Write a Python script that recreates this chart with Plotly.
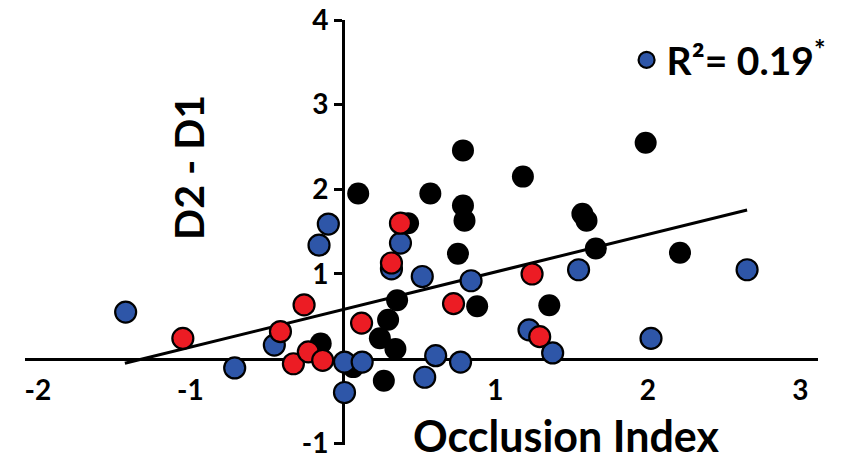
import plotly.graph_objects as go

# ---- data ----
black_x = [0.10, 0.573, 0.787, 0.787, 0.797, 0.754, 1.18, 1.985, 1.57, 1.597, 1.658, 2.21,
           0.88, 1.353, 0.355, 0.296, 0.242, 0.344, -0.146, 0.067, 0.268, 0.427]
black_y = [1.95, 1.95, 2.46, 1.81, 1.63, 1.24, 2.15, 2.55, 1.71, 1.63, 1.30, 1.25,
           0.62, 0.63, 0.69, 0.46, 0.24, 0.115, 0.18, -0.10, -0.26, 1.60]

red_x = [-1.05, -0.255, -0.41, -0.325, -0.227, -0.133, 0.377, 0.318, 0.122, 0.725, 1.24, 1.29]
red_y = [0.24, 0.635, 0.32, -0.06, 0.08, -0.02, 1.60, 1.13, 0.42, 0.65, 1.00, 0.26]

blue_x = [-1.425, -0.71, -0.45, -0.157, -0.096, 0.01, 0.01, 0.126, 0.377, 0.318,
          0.52, 0.84, 0.536, 0.608, 0.771, 1.22, 1.375, 1.545, 2.65, 2.02]
blue_y = [0.55, -0.11, 0.16, 1.34, 1.59, -0.04, -0.40, -0.04, 1.365, 1.06,
          0.97, 0.92, -0.22, 0.035, -0.04, 0.34, 0.067, 1.05, 1.05, 0.24]

fit_x = [-1.43, 2.65]
fit_slope = 0.444
fit_intercept = 0.58

x_ticks = [-2, -1, 1, 2, 3]
y_ticks = [-1, 1, 2, 3, 4]
legend_label = "R²= 0.19<sup>*</sup>"

# ---- figure ----
FONT = "Lato"
BLUE = "#2E56A8"
RED = "#EC1C24"

# the page body adds an 8px offset, so the figure is 8px smaller each way
W, H = 842, 450
ML, MR, MT, MB = 17, 32, 12, 13
PW, PH = W - ML - MR, H - MT - MB

xr = [-2.085, 3.115]
yr = [-1.02, 4.0]

fig = go.Figure()
fig.add_trace(go.Scatter(
    x=fit_x, y=[fit_slope * v + fit_intercept for v in fit_x],
    mode="lines", line=dict(color="black", width=3), showlegend=False, hoverinfo="skip"))
fig.add_trace(go.Scatter(
    x=black_x, y=black_y, mode="markers", showlegend=False,
    marker=dict(size=22, color="black", line=dict(color="black", width=0))))
fig.add_trace(go.Scatter(
    x=blue_x, y=blue_y, mode="markers", name=legend_label, showlegend=True,
    marker=dict(size=21, color=BLUE, line=dict(color="black", width=2.2))))
fig.add_trace(go.Scatter(
    x=red_x, y=red_y, mode="markers", showlegend=False,
    marker=dict(size=21, color=RED, line=dict(color="black", width=2.2))))

fig.update_layout(
    width=W, height=H,
    margin=dict(l=ML, r=MR, t=MT, b=MB, autoexpand=False),
    paper_bgcolor="white", plot_bgcolor="white",
    font=dict(family=FONT, color="black"),
    showlegend=True,
    legend=dict(x=0.7586, y=0.981, xanchor="left", yanchor="top",
                font=dict(family=FONT, size=39, weight="bold", color="black"),
                bgcolor="rgba(0,0,0,0)", itemwidth=30, tracegroupgap=0),
    xaxis=dict(range=xr, anchor="free",
               position=(0 - yr[0]) / (yr[1] - yr[0]),
               showgrid=False, zeroline=False, showline=True, linecolor="black", linewidth=2.7,
               tickvals=x_ticks, ticktext=[str(v) for v in x_ticks], ticks="",
               ticklabelstandoff=6, ticklabeloverflow="allow",
               tickfont=dict(family=FONT, size=28, weight="bold", color="black"),
               layer="below traces"),
    yaxis=dict(range=yr, anchor="free",
               position=(0 - xr[0]) / (xr[1] - xr[0]),
               showgrid=False, zeroline=False, showline=True, linecolor="black", linewidth=2.7,
               tickvals=y_ticks, ticktext=[str(v) for v in y_ticks], ticks="outside",
               ticklen=8, tickwidth=2.5, tickcolor="black", ticklabeloverflow="allow",
               tickfont=dict(family=FONT, size=28, weight="bold", color="black"),
               layer="below traces"),
    annotations=[
        dict(text="Occlusion Index", xref="paper", yref="paper",
             x=(566 - 8 - ML) / PW, y=(H - MB - (435 - 8)) / PH, xanchor="center", yanchor="middle",
             showarrow=False, font=dict(family=FONT, size=43, weight="bold", color="black")),
        dict(text="D2 - D1", xref="paper", yref="paper", textangle=-90,
             x=(188 - 8 - ML) / PW, y=(H - MB - (168 - 8)) / PH, xanchor="center", yanchor="middle",
             showarrow=False, font=dict(family=FONT, size=41, weight="bold", color="black")),
    ],
)

fig.write_html("out.html")
